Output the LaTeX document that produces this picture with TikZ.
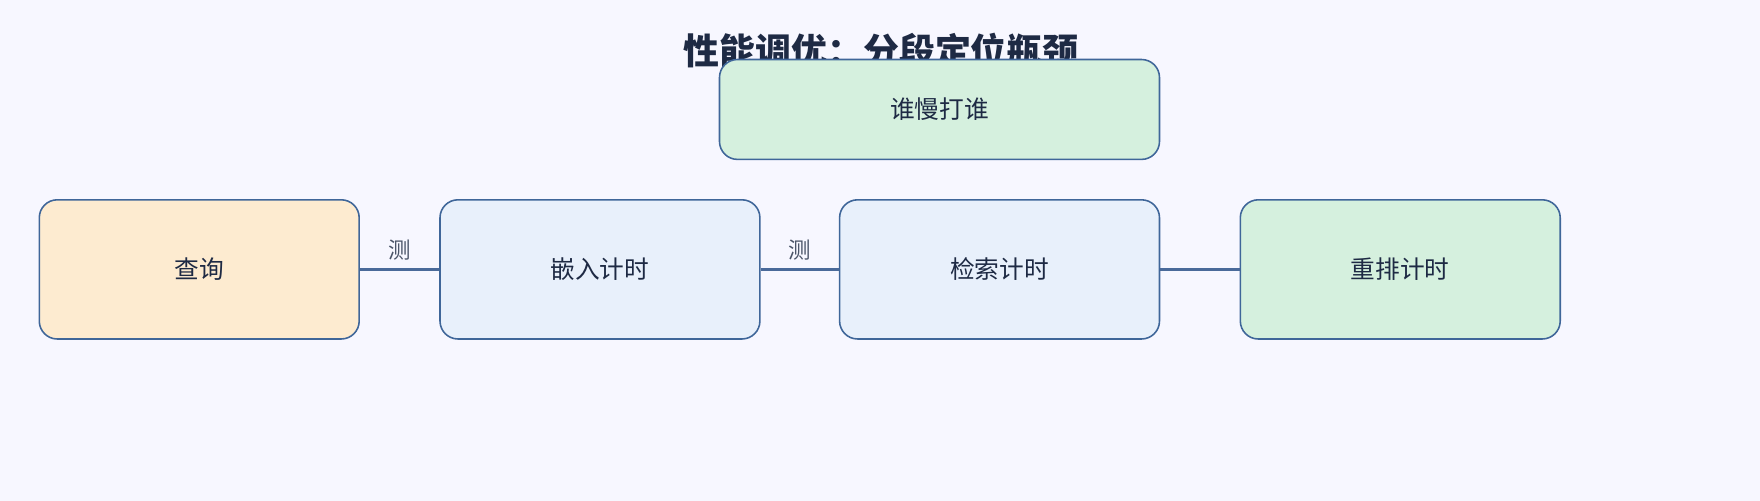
\documentclass[tikz,border=0pt]{standalone}
\usepackage{fontspec}
\setmainfont{Noto Sans CJK SC}
\usetikzlibrary{positioning}
\definecolor{edgeblue}{HTML}{3F6699}
\definecolor{linkblue}{HTML}{4A6A9A}
\definecolor{inkdark}{HTML}{1E2A44}
\definecolor{fillorange}{HTML}{FDEBD0}
\definecolor{fillblue}{HTML}{E8F0FB}
\definecolor{fillgreen}{HTML}{D5F0DE}
\tikzset{
  stage/.style={draw=edgeblue,line width=0.7pt,rounded corners=8pt,text=inkdark,
    minimum width=142.5pt,minimum height=62pt,font=\fontsize{11}{13}\selectfont},
  link/.style={draw=linkblue,line width=1.5pt},
  linklabel/.style={above,text=inkdark!80,font=\fontsize{10}{12}\selectfont}
}
\begin{document}
\begin{tikzpicture}[x=0.5pt,y=-0.5pt]
\fill[white!97!blue] (0,0) rectangle (1568,446);
\useasboundingbox (0,0) rectangle (1568,446);
\node[text=inkdark,font=\fontsize{16}{18}\selectfont\bfseries] (title) at (785,45) {性能调优：分段定位瓶颈};
\node[stage,fill=fillgreen,minimum width=196pt,minimum height=44.5pt] (slow) at (837,97.5) {谁慢打谁};
\node[stage,fill=fillorange] (query) at (177.5,240) {查询};
\node[stage,fill=fillblue] (embed) at (534.5,240) {嵌入计时};
\node[stage,fill=fillblue] (search) at (890.5,240) {检索计时};
\node[stage,fill=fillgreen] (rerank) at (1247.5,240) {重排计时};
\draw[link] (query) -- node[linklabel] {测} (embed);
\draw[link] (embed) -- node[linklabel] {测} (search);
\draw[link] (search) -- (rerank);
\end{tikzpicture}
\end{document}
